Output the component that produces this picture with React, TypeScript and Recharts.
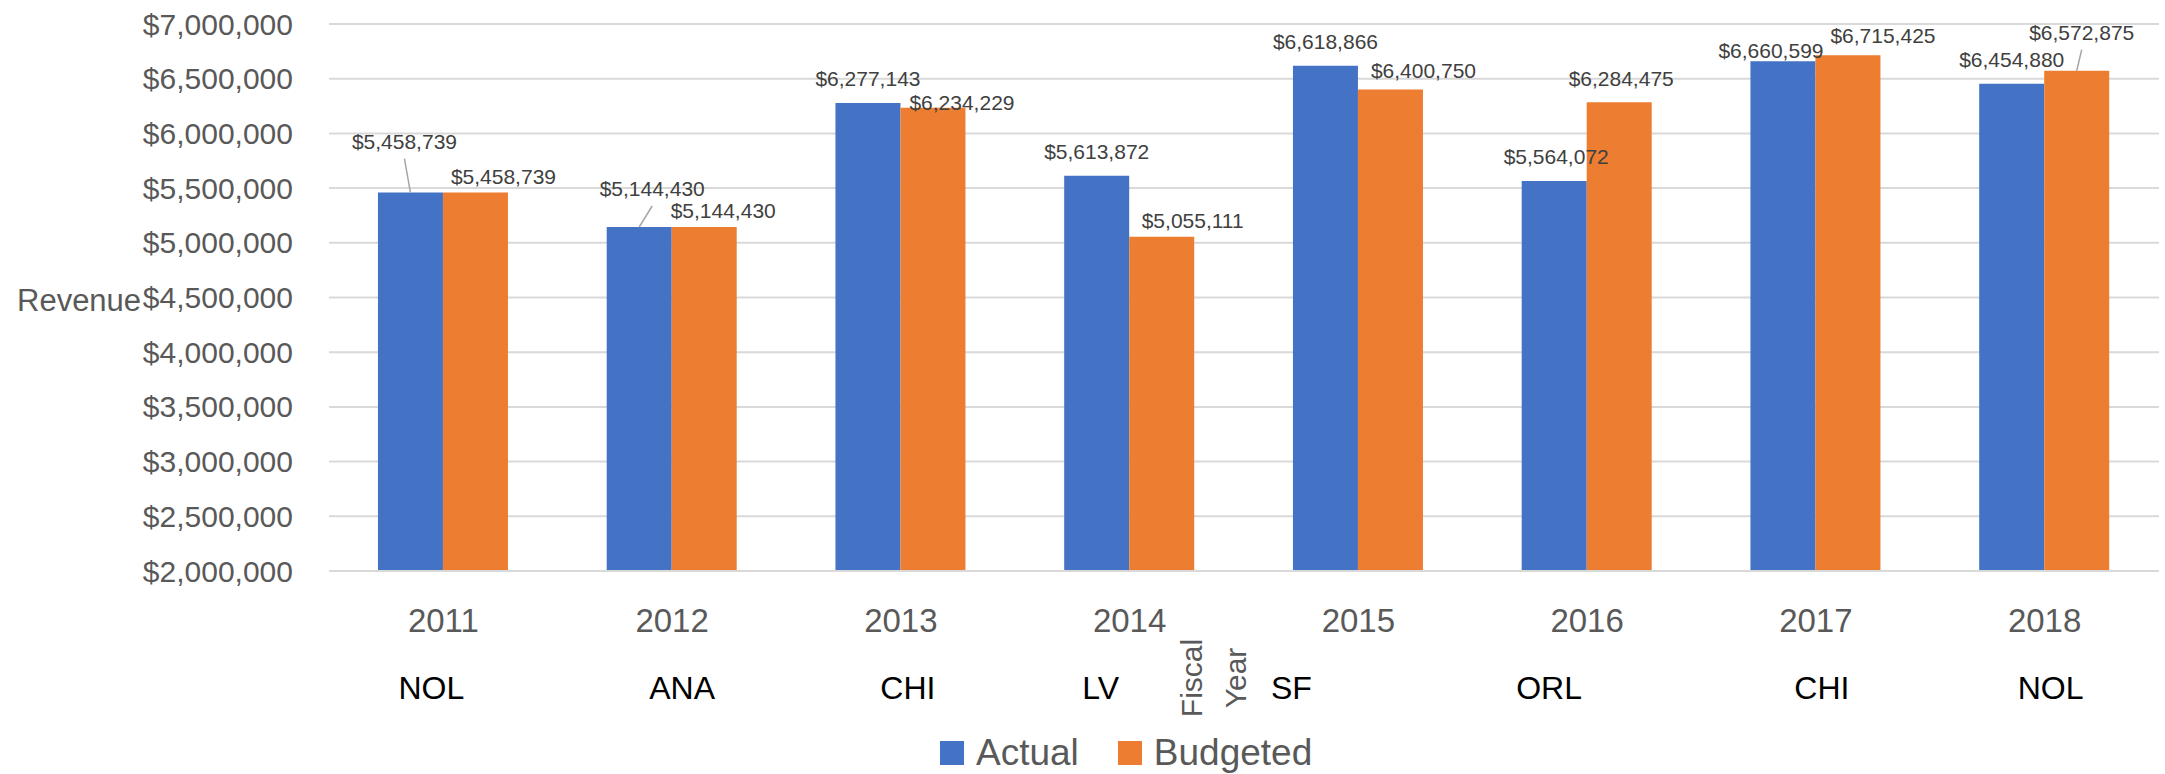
import React from "react";
import {
  BarChart,
  Bar,
  XAxis,
  YAxis,
  CartesianGrid,
  Legend,
  LabelList,
} from "recharts";

const years = ["2011", "2012", "2013", "2014", "2015", "2016", "2017", "2018"];
const sites = ["NOL", "ANA", "CHI", "LV", "SF", "ORL", "CHI", "NOL"];
const actual = [5458739, 5144430, 6277143, 5613872, 6618866, 5564072, 6660599, 6454880];
const budgeted = [5458739, 5144430, 6234229, 5055111, 6400750, 6284475, 6715425, 6572875];
const yTicks = [2000000, 2500000, 3000000, 3500000, 4000000, 4500000, 5000000, 5500000, 6000000, 6500000, 7000000];

// label nudges, as Excel placed them ([dx, dy] from the default spot above the bar)
const actualShift = [[-6, -27], [13, -14], [0, 0], [0, 0], [0, 0], [2, 0], [-12, 14], [0, 0]];
const budgetShift = [[28, 8], [19, 8], [29, 19], [31, 8], [33, 5], [2, 0], [35, 5], [5, -14]];
const siteShift = [-12, 10, 7, -29, -67, -38, 6, 6];

const FONT = '"Liberation Sans", Arial, sans-serif';
const BLUE = "#4472C4";
const ORANGE = "#ED7D31";
const GREY = "#595959";

const data = years.map((year, i) => ({
  year,
  actual: actual[i],
  budgeted: budgeted[i],
}));

const money = (v: number) => "$" + v.toLocaleString("en-US");

function makeBarLabel(shift: number[][]) {
  return function BarLabel(props: any) {
    const { x, y, width, value, index } = props;
    const [dx, dy] = shift[index] || [0, 0];
    const barCx = x + width / 2;
    const cx = barCx + dx;
    const cy = y - 24 + dy;
    // pulled away from the bar -> leader line
    const leader = dy <= -10;
    return (
      <g>
        {leader && (
          <line x1={cx} y1={cy + 17} x2={barCx} y2={y} stroke="#a6a6a6" strokeWidth={1.5} />
        )}
        <text
          x={cx}
          y={cy}
          dy="0.35em"
          textAnchor="middle"
          fontSize={21}
          fontFamily={FONT}
          fill="#404040"
        >
          {money(value)}
        </text>
      </g>
    );
  };
}

const ActualLabel = makeBarLabel(actualShift);
const BudgetLabel = makeBarLabel(budgetShift);

function MoneyTick(props: any) {
  const { x, y, payload } = props;
  return (
    <text
      x={x - 36}
      y={y}
      dy="0.35em"
      textAnchor="end"
      fontSize={30}
      fontFamily={FONT}
      fill={GREY}
    >
      {money(payload.value)}
    </text>
  );
}

function CategoryTick(props: any) {
  const { x, y, payload } = props;
  const i = payload.index ?? props.index ?? 0;
  return (
    <g fontFamily={FONT}>
      <text x={x} y={y + 61} textAnchor="middle" fontSize={33} fill={GREY}>
        {payload.value}
      </text>
      <text x={x + siteShift[i]} y={y + 128} textAnchor="middle" fontSize={32} fill="#000">
        {sites[i]}
      </text>
    </g>
  );
}

function RevenueTitle(props: any) {
  const vb = props.viewBox || { x: 0, y: 24, width: 329, height: 547 };
  return (
    <text
      x={vb.x + 17}
      y={vb.y + vb.height / 2 + 3}
      dy="0.35em"
      fontSize={31}
      fontFamily={FONT}
      fill={GREY}
    >
      Revenue
    </text>
  );
}

function FiscalTitle(props: any) {
  const vb = props.viewBox || { x: 329, y: 571, width: 1830, height: 161 };
  const cx = vb.x + vb.width / 2;
  const cy = vb.y + 107;
  return (
    <g fontFamily={FONT} fontSize={30} fill={GREY}>
      <text
        x={cx - 53}
        y={cy}
        textAnchor="middle"
        dominantBaseline="central"
        transform={`rotate(-90 ${cx - 53} ${cy})`}
      >
        Fiscal
      </text>
      <text
        x={cx - 9}
        y={cy}
        textAnchor="middle"
        dominantBaseline="central"
        transform={`rotate(-90 ${cx - 9} ${cy})`}
      >
        Year
      </text>
    </g>
  );
}

function LegendBox() {
  const item = (color: string, name: string, gap: number) => (
    <div style={{ display: "flex", alignItems: "center", marginLeft: gap }}>
      <span style={{ width: 24, height: 24, background: color, marginRight: 12 }} />
      <span>{name}</span>
    </div>
  );
  return (
    <div
      style={{
        display: "flex",
        alignItems: "center",
        height: 42,
        fontFamily: FONT,
        fontSize: 37,
        color: GREY,
        whiteSpace: "nowrap",
      }}
    >
      {item(BLUE, "Actual", 0)}
      {item(ORANGE, "Budgeted", 39)}
    </div>
  );
}

export default function App() {
  return (
    <div style={{ position: "absolute", left: 0, top: 0, width: 2165, height: 774, background: "#fff" }}>
      <BarChart
        width={2165}
        height={774}
        data={data}
        margin={{ top: 24, right: 6, bottom: 0, left: 0 }}
        barCategoryGap="21.4%"
        barGap={0}
      >
        <CartesianGrid vertical={false} stroke="#d9d9d9" strokeWidth={2} />
        <XAxis
          dataKey="year"
          interval={0}
          height={161}
          tickLine={false}
          tickSize={0}
          tickMargin={0}
          axisLine={{ stroke: "#d9d9d9", strokeWidth: 2 }}
          tick={<CategoryTick />}
          label={{ value: "Fiscal Year", content: FiscalTitle }}
        />
        <YAxis
          width={329}
          domain={[2000000, 7000000]}
          ticks={yTicks}
          allowDataOverflow
          tickLine={false}
          axisLine={false}
          tickSize={0}
          tickMargin={0}
          tick={<MoneyTick />}
          label={{ value: "Revenue", content: RevenueTitle }}
        />
        <Legend
          verticalAlign="bottom"
          content={<LegendBox />}
          wrapperStyle={{ left: 940, width: 420 }}
        />
        <Bar dataKey="actual" name="Actual" fill={BLUE} isAnimationActive={false}>
          <LabelList dataKey="actual" content={ActualLabel} />
        </Bar>
        <Bar dataKey="budgeted" name="Budgeted" fill={ORANGE} isAnimationActive={false}>
          <LabelList dataKey="budgeted" content={BudgetLabel} />
        </Bar>
      </BarChart>
    </div>
  );
}
